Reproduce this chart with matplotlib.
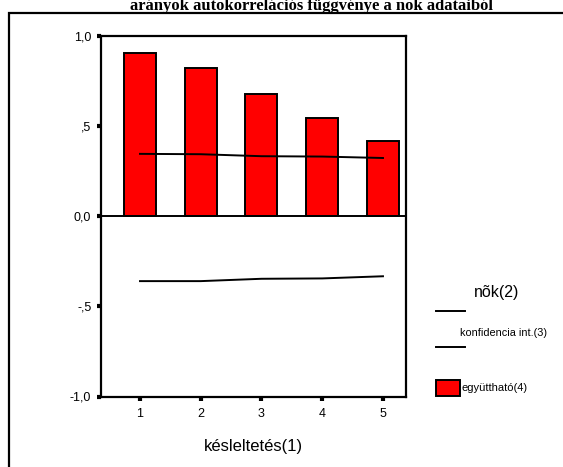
import matplotlib
matplotlib.use('Agg')
import matplotlib.pyplot as plt
from matplotlib.patches import Rectangle
from matplotlib.lines import Line2D

lags = [1, 2, 3, 4, 5]
acf = [0.909, 0.826, 0.682, 0.546, 0.422]
conf_upper = [0.348, 0.346, 0.335, 0.333, 0.325]
conf_lower = [-0.359, -0.359, -0.346, -0.344, -0.332]
ytick_vals = [-1.0, -0.5, 0.0, 0.5, 1.0]
ytick_labels = ['-1,0', '-,5', '0,0', ',5', '1,0']

plt.rcParams['font.family'] = ['Liberation Sans', 'DejaVu Sans']

W, H = 563, 467
fig = plt.figure(figsize=(W / 100, H / 100), dpi=100)

# outer frame (runs off the right and bottom edges)
fig.patches.append(Rectangle((9 / W, -0.1), 1.2, 1 - 13 / H + 0.1,
                             transform=fig.transFigure, fill=False,
                             edgecolor='black', linewidth=1.6))

# clipped title
fig.text(311 / W, 1 - 9.5 / H, 'arányok autokorrelációs függvénye a nõk adataiból',
         family='Liberation Serif', weight='bold', fontsize=12,
         ha='center', va='baseline')

ax = fig.add_axes([101 / W, 1 - 396.5 / H, 305 / W, 360 / H])
ax.bar(lags, acf, width=0.527, color='#ff0000', edgecolor='black', linewidth=1.4, zorder=2)
ax.plot(lags, conf_upper, color='black', linewidth=1.4, zorder=3)
ax.plot(lags, conf_lower, color='black', linewidth=1.4, zorder=3)
ax.axhline(0, color='black', linewidth=1.4, zorder=4)

ax.set_xlim(0.358, 5.379)
ax.set_ylim(-1, 1)
ax.set_xticks(lags)
ax.set_xticklabels([str(l) for l in lags], fontsize=9)
ax.set_yticks(ytick_vals)
ax.set_yticklabels(ytick_labels, fontsize=9)
ax.tick_params(direction='out', length=3, width=3)
ax.tick_params(axis='y', pad=4)
ax.tick_params(axis='x', pad=5)
for s in ax.spines.values():
    s.set_linewidth(1.6)

ax.set_xlabel('késleltetés(1)', fontsize=12, labelpad=14)

# legend drawn by hand, SPSS style
fig.text(497 / W, 1 - 292 / H, 'nõk(2)', fontsize=11.5, ha='center', va='center')
fig.lines.append(Line2D([436 / W, 465 / W], [1 - 311 / H] * 2, transform=fig.transFigure,
                        color='black', linewidth=1.4))
fig.text(460 / W, 1 - 333 / H, 'konfidencia int.(3)', fontsize=7.8, va='center')
fig.lines.append(Line2D([436 / W, 465 / W], [1 - 347 / H] * 2, transform=fig.transFigure,
                        color='black', linewidth=1.4))
fig.patches.append(Rectangle((436 / W, 1 - 396 / H), 24 / W, 16 / H,
                             transform=fig.transFigure, facecolor='#ff0000',
                             edgecolor='black', linewidth=1.4))
fig.text(461 / W, 1 - 388 / H, 'együttható(4)', fontsize=8, va='center')

fig.savefig('out.png', dpi=100)
